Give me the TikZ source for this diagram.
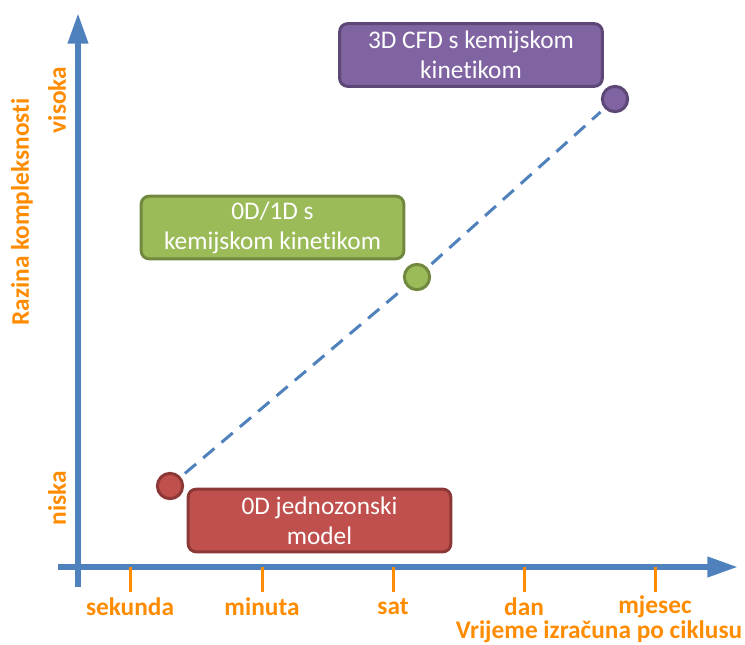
\documentclass[tikz,border=0pt]{standalone}
\usepackage{fontspec}
\setmainfont[Ligatures={NoCommon}]{Carlito}
\usetikzlibrary{arrows.meta}
\definecolor{axblue}{HTML}{4F81BD}
\definecolor{lblorange}{HTML}{FF8C00}
\definecolor{redfill}{HTML}{C0504D}
\definecolor{redline}{HTML}{8C3836}
\definecolor{grnfill}{HTML}{9BBB59}
\definecolor{grnline}{HTML}{71893F}
\definecolor{purfill}{HTML}{8064A2}
\definecolor{purline}{HTML}{5C4776}
\tikzset{
  axisline/.style={draw=axblue, line width=4.5pt, -{Triangle[length=23pt,width=14.5pt]}},
  tickline/.style={draw=lblorange, line width=2.25pt},
  axlabel/.style={text=lblorange, font=\fontsize{19}{23}\selectfont\bfseries, inner sep=0pt},
  modelbox/.style={rounded corners=6pt, line width=2.25pt, text=white, align=center,
    minimum width=197pt, minimum height=47pt, inner sep=0pt,
    font=\fontsize{19}{22.5}\selectfont},
  dot/.style={circle, line width=2.25pt, minimum size=19pt, inner sep=0pt},
  trend/.style={draw=axblue, line width=2.25pt, dash pattern=on 11pt off 7pt, shorten <=4pt, shorten >=4pt}
}
\begin{document}
\begin{tikzpicture}[x=0.75pt,y=-0.75pt]
\useasboundingbox (0,0) rectangle (745,644);
% axes
\coordinate (ybot) at (78,587);
\coordinate (ytop) at (78,13);
\coordinate (xleft) at (58,567);
\coordinate (xright) at (738,567);
\draw[axisline] (ybot) -- (ytop);
\draw[axisline] (xleft) -- (xright);
% ticks and labels
\foreach \x/\name/\lab in {130/t1/sekunda, 262/t2/minuta, 393/t3/sat, 524/t4/dan, 655/t5/mjesec}{
  \coordinate (\name a) at (\x,567);
  \coordinate (\name b) at (\x,592);
  \draw[tickline] (\name a) -- (\name b);
  \node[axlabel] (\name lab) at (\x,607) {\lab};
}
\node[axlabel] (xtitle) at (599,632) {Vrijeme izračuna po ciklusu};
\node[axlabel, rotate=90] (visoka) at (57,100) {visoka};
\node[axlabel, rotate=90] (niska) at (57,498) {niska};
\node[axlabel, rotate=90] (ytitle) at (22,212) {Razina kompleksnosti};
% boxes
\node[modelbox, fill=redfill, draw=redline] (redbox) at (319.5,520.5) {0D jednozonski\\model};
\node[modelbox, fill=grnfill, draw=grnline] (grnbox) at (272.5,227.5) {0D/1D s\\kemijskom kinetikom};
\node[modelbox, fill=purfill, draw=purline] (purbox) at (471,55) {3D CFD s kemijskom\\kinetikom};
% dots
\node[dot, fill=redfill, draw=redline] (reddot) at (170,486) {};
\node[dot, fill=grnfill, draw=grnline] (grndot) at (417,277) {};
\node[dot, fill=purfill, draw=purline] (purdot) at (615,99) {};
\draw[trend] (reddot) -- (grndot);
\draw[trend] (grndot) -- (purdot);
\end{tikzpicture}
\end{document}
